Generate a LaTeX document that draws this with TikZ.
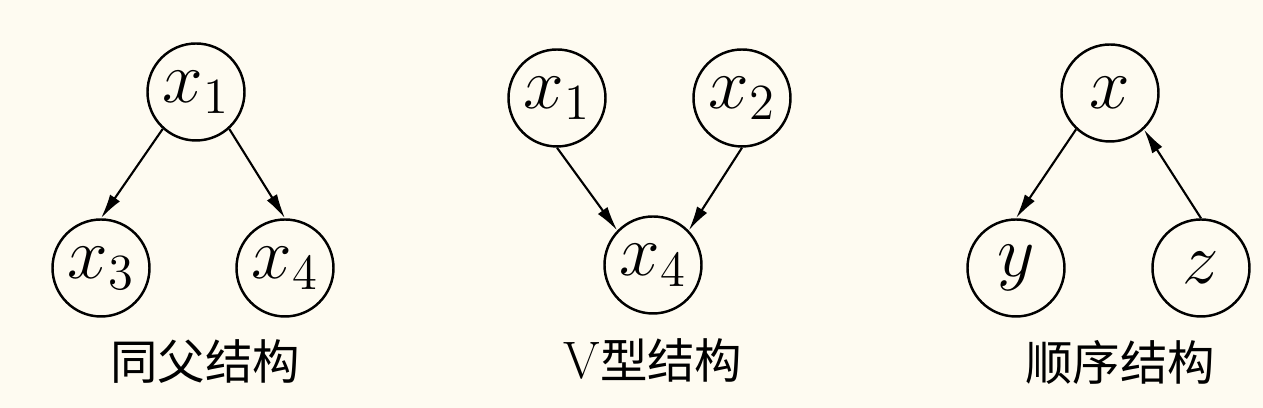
\documentclass[tikz,border=0pt]{standalone}
\usepackage{amsmath}
\usepackage{fontspec}
\newfontfamily\cjk{Noto Sans CJK SC}
\usetikzlibrary{arrows.meta}
\definecolor{paper}{RGB}{254,251,241}

\begin{document}
\begin{tikzpicture}[
	var/.style={circle, draw, line width=0.7pt, minimum size=0.97cm, inner sep=0pt, font=\fontsize{20}{24}\selectfont},
	edge/.style={line width=0.6pt, -{Latex[length=7pt,width=3.4pt]}},
	caption/.style={font=\fontsize{13.5}{16}\selectfont\cjk},
	]
	\fill[paper] (0,0) rectangle (12.63,4.08);
	\useasboundingbox (0,0) rectangle (12.63,4.08);
	% common parent
	\node (A1) [var] at (1.96,3.16) {$x_1$};
	\node (A3) [var] at (1.01,1.40) {$x_3$};
	\node (A4) [var] at (2.85,1.40) {$x_4$};
	\draw[edge] (A1.228) -- (A3.north);
	\draw[edge] (A1.312) -- (A4.north);
	\node (Acap) [caption] at (2.05,0.46) {同父结构};
	% V structure
	\node (B1) [var] at (5.57,3.10) {$x_1$};
	\node (B2) [var] at (7.42,3.10) {$x_2$};
	\node (B4) [var] at (6.53,1.43) {$x_4$};
	\draw[edge] (B1.south) -- (B4.136);
	\draw[edge] (B2.south) -- (B4.44);
	\node (Bcap) [caption] at (6.53,0.48) {{\rmfamily\fontsize{15}{16}\selectfont V}型结构};
	% chain
	\node (Cx) [var] at (11.10,3.15) {$x$};
	\node (Cy) [var] at (10.16,1.40) {$y$};
	\node (Cz) [var] at (12.01,1.40) {$z$};
	\draw[edge] (Cx.227) -- (Cy.north);
	\draw[edge] (Cz.north) -- (Cx.313);
	\node (Ccap) [caption] at (11.20,0.46) {顺序结构};
\end{tikzpicture}
\end{document}
